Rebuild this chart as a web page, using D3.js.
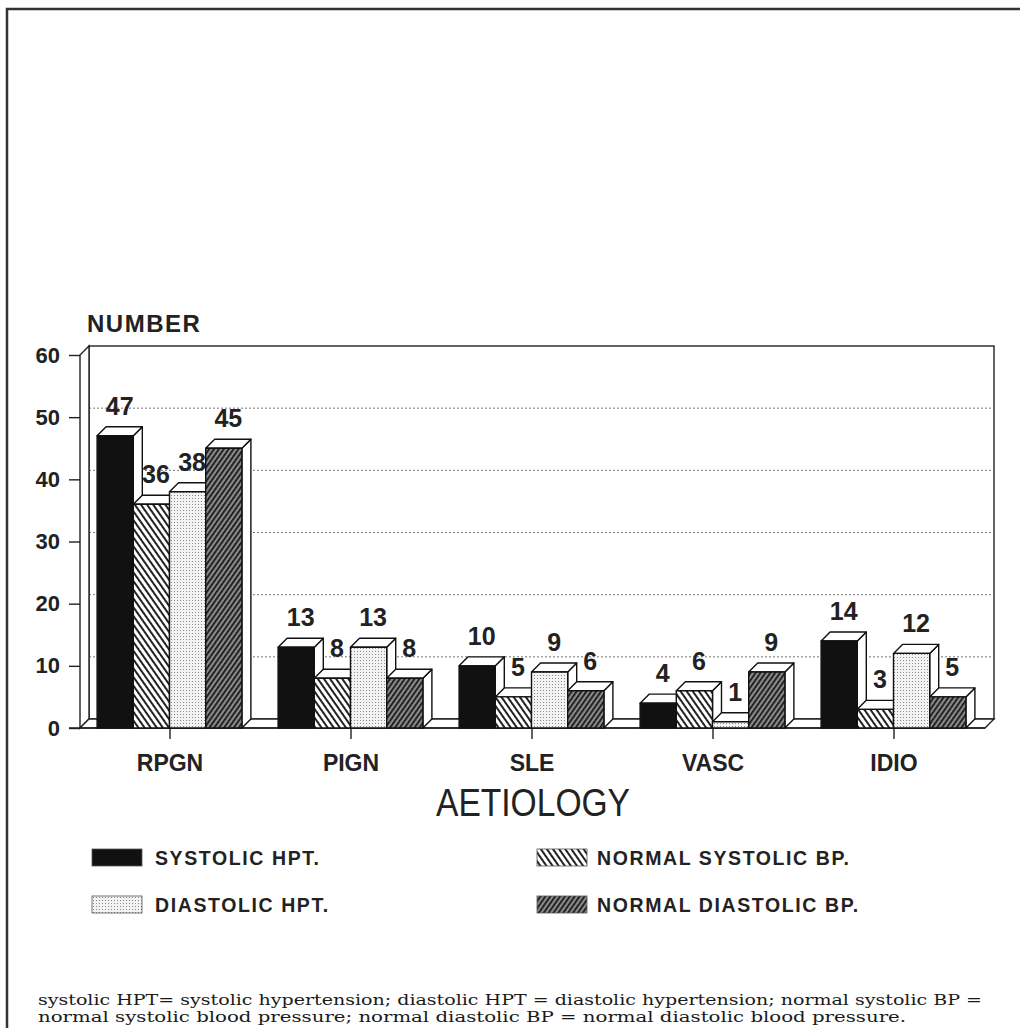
<!DOCTYPE html>
<html><head><meta charset="utf-8">
<script src="https://cdn.jsdelivr.net/npm/d3@7"></script>
<style>body{margin:0;background:#fff}svg{display:block}</style>
</head><body>
<svg id="c" width="1020" height="1028"></svg>
<script>
const categories = ["RPGN","PIGN","SLE","VASC","IDIO"];
const seriesNames = ["SYSTOLIC HPT.","NORMAL SYSTOLIC BP.","DIASTOLIC HPT.","NORMAL DIASTOLIC BP."];
const systolicHPT = [47,13,10,4,14];
const normalSystolicBP = [36,8,5,6,3];
const diastolicHPT = [38,13,9,1,12];
const normalDiastolicBP = [45,8,6,9,5];
const yTicks = [0,10,20,30,40,50,60];
const footnote = ["systolic HPT= systolic hypertension; diastolic HPT = diastolic hypertension; normal systolic BP =",
"normal systolic blood pressure; normal diastolic BP = normal diastolic blood pressure."];

const seriesValues = [systolicHPT, normalSystolicBP, diastolicHPT, normalDiastolicBP];
const svg = d3.select("#c");
const defs = svg.append("defs");
defs.append("pattern").attr("id","pSys").attr("patternUnits","userSpaceOnUse").attr("width",4).attr("height",4)
  .append("rect").attr("width",4).attr("height",4).attr("fill","#111");
let p2 = defs.append("pattern").attr("id","pNSys").attr("patternUnits","userSpaceOnUse").attr("width",5).attr("height",5).attr("patternTransform","rotate(-35)");
p2.append("rect").attr("width",5).attr("height",5).attr("fill","#fff");
p2.append("rect").attr("width",2).attr("height",5).attr("fill","#222");
let p3 = defs.append("pattern").attr("id","pDia").attr("patternUnits","userSpaceOnUse").attr("width",3).attr("height",3);
p3.append("rect").attr("width",3).attr("height",3).attr("fill","#f3f3f3");
p3.append("rect").attr("width",1).attr("height",1).attr("fill","#888");
let p4 = defs.append("pattern").attr("id","pNDia").attr("patternUnits","userSpaceOnUse").attr("width",4).attr("height",4).attr("patternTransform","rotate(35)");
p4.append("rect").attr("width",4).attr("height",4).attr("fill","#8a8a8a");
p4.append("rect").attr("width",1.8).attr("height",4).attr("fill","#1a1a1a");
const fills = ["url(#pSys)","url(#pNSys)","url(#pDia)","url(#pNDia)"];

const font = "'Liberation Sans', Arial, sans-serif";
const D = 9;
const x0 = 80, xEnd = 985;
const y = d3.scaleLinear().domain([0,60]).range([728,355]);
const xg = d3.scaleBand().domain(categories).range([79, 79+5*181]).paddingInner(0.2).paddingOuter(0.1);
const xs = d3.scaleBand().domain(d3.range(4)).range([0, xg.bandwidth()]);

svg.append("path").attr("d","M7,1028 L7,9 L1020,9").attr("fill","none").attr("stroke","#333").attr("stroke-width",2.5);

const g = svg.append("g").attr("stroke","#222").attr("stroke-width",1.4);
g.append("rect").attr("x",x0+D).attr("y",y(60)-D).attr("width",xEnd-x0).attr("height",y(0)-y(60)).attr("fill","#fff");
g.selectAll(".grid").data(yTicks.filter(t=>t>0&&t<60)).join("line")
  .attr("x1",x0+D).attr("x2",xEnd+D).attr("y1",d=>y(d)-D).attr("y2",d=>y(d)-D)
  .attr("stroke","#777").attr("stroke-width",1).attr("stroke-dasharray","2,2");
g.append("path").attr("d",`M${x0},${y(0)} L${x0},${y(60)} L${x0+D},${y(60)-D} L${x0+D},${y(0)-D} Z`).attr("fill","#fff");
g.append("path").attr("d",`M${x0},${y(0)} L${x0+D},${y(0)-D} L${xEnd+D},${y(0)-D} L${xEnd},${y(0)} Z`).attr("fill","#fff");
const yAxis = d3.axisLeft(y).tickValues(yTicks).tickSize(11).tickPadding(9);
const ya = svg.append("g").attr("transform",`translate(${x0},0)`).call(yAxis);
ya.select(".domain").remove();
ya.selectAll(".tick line").attr("stroke","#222").attr("stroke-width",1.4);
ya.selectAll(".tick text").attr("font-family",font).attr("font-weight","bold").attr("font-size",22).attr("fill","#222");
svg.append("line").attr("x1",69).attr("x2",xEnd).attr("y1",y(0)).attr("y2",y(0)).attr("stroke","#222").attr("stroke-width",1.4);

const xAxis = d3.axisBottom(d3.scalePoint().domain(categories).range([xg(categories[0])+xg.bandwidth()/2, xg(categories[4])+xg.bandwidth()/2])).tickSize(11).tickPadding(16);
const xa = svg.append("g").attr("transform",`translate(0,${y(0)})`).call(xAxis);
xa.select(".domain").remove();
xa.selectAll(".tick line").attr("stroke","#222").attr("stroke-width",1.4);
xa.selectAll(".tick text").attr("font-family",font).attr("font-weight","bold").attr("font-size",23).attr("fill","#222");

const bars = svg.append("g");
categories.forEach((c,ci)=>{
  seriesValues.forEach((vals,si)=>{
    const v = vals[ci];
    const bx = xg(c)+xs(si), w = xs.bandwidth(), yt = y(v), yb = y(0);
    const bg = bars.append("g").attr("stroke","#111").attr("stroke-width",1.4).attr("stroke-linejoin","round");
    bg.append("path").attr("d",`M${bx+w},${yt} L${bx+w+D},${yt-D} L${bx+w+D},${yb-D} L${bx+w},${yb} Z`).attr("fill","#fff");
    bg.append("path").attr("d",`M${bx},${yt} L${bx+D},${yt-D} L${bx+w+D},${yt-D} L${bx+w},${yt} Z`).attr("fill","#fff");
    bg.append("rect").attr("x",bx).attr("y",yt).attr("width",w).attr("height",yb-yt).attr("fill",fills[si]);
    bars.append("text").attr("x",bx+w/2+D/2).attr("y",yt-D-12).attr("text-anchor","middle")
      .attr("font-family",font).attr("font-weight","bold").attr("font-size",25).attr("fill","#222").text(v);
  });
});

svg.append("text").attr("x",87).attr("y",332).attr("font-family",font).attr("font-weight","bold").attr("font-size",24).attr("letter-spacing",1.5).attr("fill","#222").text("NUMBER");
svg.append("text").attr("x",533).attr("y",816).attr("text-anchor","middle").attr("font-family",font).attr("font-size",38)
  .attr("textLength",194).attr("lengthAdjust","spacingAndGlyphs").attr("fill","#222").text("AETIOLOGY");

const legPos = [[92,849],[537,849],[92,896],[537,896]];
seriesNames.forEach((n,i)=>{
  const [lx,ly] = legPos[i];
  svg.append("rect").attr("x",lx).attr("y",ly).attr("width",50).attr("height",17).attr("fill",fills[i]).attr("stroke","#555").attr("stroke-width",0.8);
  svg.append("text").attr("x",lx+(i%2===0?63:60)).attr("y",ly+16).attr("font-family",font).attr("font-weight","bold").attr("font-size",19.5).attr("letter-spacing",1.6).attr("fill","#222").text(n);
});

footnote.forEach((t,i)=>{
  svg.append("text").attr("x",38).attr("y",1005+i*17).attr("font-family","'DejaVu Serif', serif").attr("font-size",14.5).attr("fill","#1a1a1a")
    .attr("textLength", i===0?944:868).attr("lengthAdjust","spacingAndGlyphs").text(t);
});
</script>
</body></html>
